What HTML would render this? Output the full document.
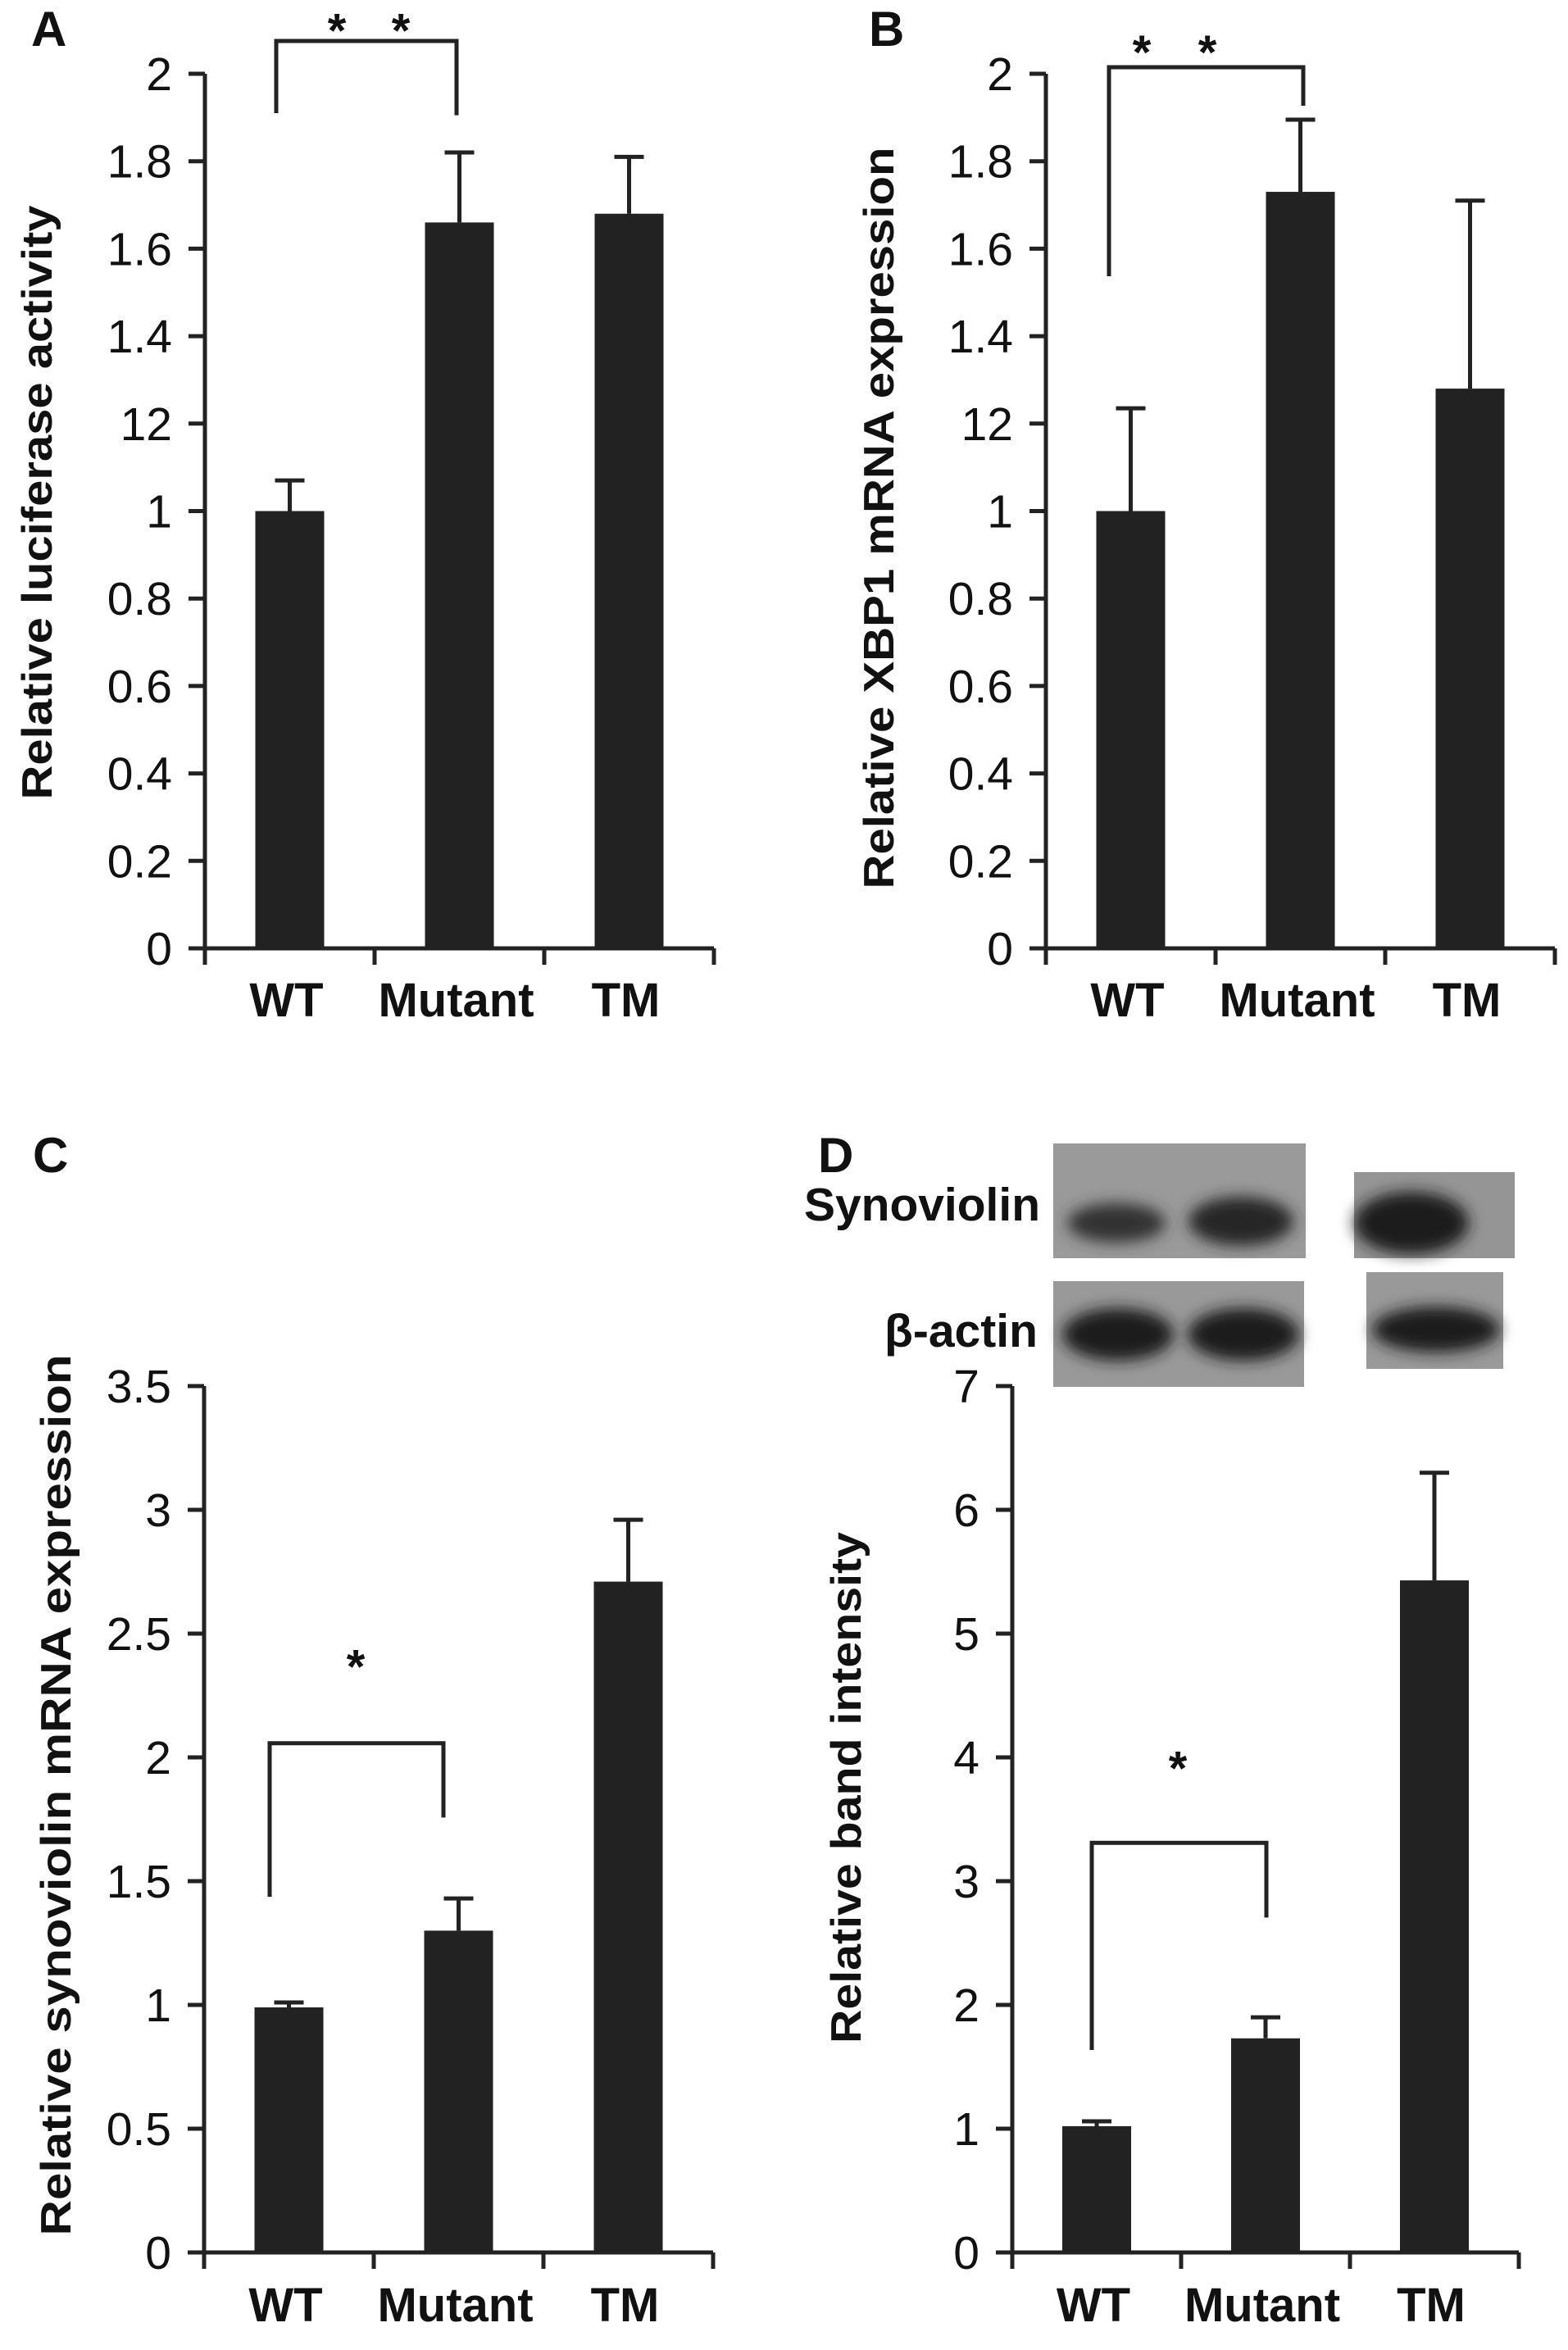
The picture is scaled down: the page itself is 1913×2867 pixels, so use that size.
<!DOCTYPE html>
<html><head><meta charset="utf-8"><style>
html,body{margin:0;padding:0;background:#fff;}
svg{display:block;}
text{font-family:"Liberation Sans",Arial,sans-serif;fill:#111;}
</style></head><body>
<svg id="fig" width="1913" height="2867" viewBox="0 0 1913 2867" xmlns="http://www.w3.org/2000/svg">
<defs><filter id="blur" x="-20%" y="-50%" width="140%" height="200%"><feGaussianBlur stdDeviation="9"/></filter></defs>
<g id="blots">
  <rect x="1285" y="1395" width="308" height="140" fill="#9a9a9a"/>
  <rect x="1652" y="1430" width="196" height="105" fill="#959595"/>
  <rect x="1285" y="1563" width="306" height="129" fill="#999"/>
  <rect x="1667" y="1552" width="167" height="118" fill="#999"/>
  <g filter="url(#blur)">
    <ellipse cx="1362" cy="1492" rx="60" ry="24" fill="#333"/>
    <ellipse cx="1514" cy="1490" rx="64" ry="30" fill="#262626"/>
    <ellipse cx="1722" cy="1492" rx="70" ry="38" fill="#1a1a1a"/>
    <ellipse cx="1364" cy="1628" rx="68" ry="32" fill="#1c1c1c"/>
    <ellipse cx="1517" cy="1628" rx="68" ry="32" fill="#1c1c1c"/>
    <ellipse cx="1752" cy="1622" rx="78" ry="28" fill="#1c1c1c"/>
  </g>
  <text x="981" y="1489" font-size="57" font-weight="bold" textLength="288" lengthAdjust="spacingAndGlyphs">Synoviolin</text>
  <text x="1079" y="1643" font-size="57" font-weight="bold" textLength="187" lengthAdjust="spacingAndGlyphs">β-actin</text>
</g>
</svg>
<script>
const categories = ["WT", "Mutant", "TM"];
const aValues = [1.0, 1.66, 1.68];
const aErrors = [0.07, 0.16, 0.13];
const aTicks = ["0","0.2","0.4","0.6","0.8","1","12","1.4","1.6","1.8","2"];
const bValues = [1.0, 1.73, 1.28];
const bErrors = [0.235, 0.165, 0.43];
const bTicks = ["0","0.2","0.4","0.6","0.8","1","12","1.4","1.6","1.8","2"];
const cValues = [0.99, 1.30, 2.71];
const cErrors = [0.02, 0.13, 0.25];
const cTicks = ["0","0.5","1","1.5","2","2.5","3","3.5"];
const dValues = [1.02, 1.73, 5.43];
const dErrors = [0.04, 0.17, 0.87];
const dTicks = ["0","1","2","3","4","5","6","7"];

const NS = "http://www.w3.org/2000/svg";
const svg = document.getElementById("fig");
function mk(tag, attrs, parent) {
  const e = document.createElementNS(NS, tag);
  for (const k in attrs) e.setAttribute(k, attrs[k]);
  (parent || svg).appendChild(e);
  return e;
}

function panel(p) {
  const g = mk("g", {});
  
  
  const yMax = p.tickStep * (p.ticks.length - 1);
  const y = v => p.y0 - (v / yMax) * (p.y0 - p.yTop);
  const xc = i => p.ax + p.slot * (i + 0.5);
  const xEnd = p.ax + p.slot * categories.length;
  p.values.forEach((v, i) => {
    const r = mk("rect", {x: xc(i) - 42, y: y(v), width: 84, height: p.y0 - y(v), fill: "#222"}, g);
    
    
    const top = y(v + p.errors[i]);
    const e = mk("path", {d: `M${xc(i)} ${y(v)} V${top} M${xc(i)-18} ${top} H${xc(i)+18}`, stroke: "#222", "stroke-width": 5, fill: "none"}, g);
    
    
    const t = mk("text", {x: xc(i) - 4, y: p.labelY, "font-size": 58, "font-weight": "bold", "text-anchor": "middle"}, g);
    t.textContent = categories[i];
    
    
  });
  const yAxis = mk("path", {d: `M${p.ax} ${p.yTop} V${p.y0 + 20}`, stroke: "#222", "stroke-width": 5, fill: "none"}, g);
  
  
  const xAxis = mk("path", {d: `M${p.ax - 20} ${p.y0} H${xEnd}`, stroke: "#222", "stroke-width": 5, fill: "none"}, g);
  
  
  for (let i = 1; i <= categories.length; i++) {
    const tk = mk("path", {d: `M${p.ax + p.slot * i} ${p.y0} V${p.y0 + 20}`, stroke: "#222", "stroke-width": 5}, g);
    
    
  }
  p.ticks.forEach((lab, i) => {
    const yy = y(i * p.tickStep);
    const tk = mk("path", {d: `M${p.ax - 20} ${yy} H${p.ax}`, stroke: "#222", "stroke-width": 5}, g);
    
    
    const t = mk("text", {x: p.ax - 40, y: yy + 20, "font-size": 57, "text-anchor": "end", fill: "#222"}, g);
    t.textContent = lab;
    
    
  });
  const tt = mk("text", {x: 0, y: 0, "font-size": 52, "font-weight": "bold", "text-anchor": "middle",
    transform: `translate(${p.titleX + 17},${p.titleY}) rotate(-90)`, textLength: p.titleLen, lengthAdjust: "spacingAndGlyphs"}, g);
  tt.textContent = p.title;
  
  
  const br = p.bracket;
  const bp = mk("path", {d: `M${br.x1} ${y(br.l)} V${y(br.top)} H${br.x2} V${y(br.r)}`, stroke: "#222", "stroke-width": 5, fill: "none"}, g);
  
  
  br.stars.forEach(sx => {
    const s = mk("text", {x: sx, y: y(br.starV) + 26, "font-size": 58, "font-weight": "bold", "text-anchor": "middle"}, g);
    s.textContent = "*";
    
    
  });
  const L = mk("text", {x: p.letter[0], y: p.letter[1], "font-size": 60, "font-weight": "bold"}, g);
  L.textContent = p.letterText;
  
  
}

panel({id: "panel-a", ax: 250, slot: 207, y0: 1157, yTop: 90, tickStep: 0.2, ticks: aTicks, values: aValues, errors: aErrors,
  labelY: 1240, title: "Relative luciferase activity", titleX: 46, titleY: 613, titleLen: 725,
  bracket: {x1: 337, x2: 557, top: 2.075, l: 1.91, r: 1.905, starV: 2.11, stars: [411, 489]},
  letter: [38, 56], letterText: "A"});
panel({id: "panel-b", ax: 1276, slot: 207, y0: 1157, yTop: 90, tickStep: 0.2, ticks: bTicks, values: bValues, errors: bErrors,
  labelY: 1240, title: "Relative XBP1 mRNA expression", titleX: 1073, titleY: 632, titleLen: 905,
  bracket: {x1: 1353, x2: 1590, top: 2.015, l: 1.537, r: 1.927, starV: 2.06, stars: [1393, 1473]},
  letter: [1060, 56], letterText: "B"});
panel({id: "panel-c", ax: 249, slot: 207, y0: 2748, yTop: 1691, tickStep: 0.5, ticks: cTicks, values: cValues, errors: cErrors,
  labelY: 2832, title: "Relative synoviolin mRNA expression", titleX: 69, titleY: 2190, titleLen: 1075,
  bracket: {x1: 329, x2: 541, top: 2.057, l: 1.437, r: 1.757, starV: 2.385, stars: [434]},
  letter: [40, 1430], letterText: "C"});
panel({id: "panel-d", ax: 1235, slot: 206, y0: 2748, yTop: 1691, tickStep: 1, ticks: dTicks, values: dValues, errors: dErrors,
  labelY: 2832, title: "Relative band intensity", titleX: 1033, titleY: 2181, titleLen: 624,
  bracket: {x1: 1332, x2: 1545, top: 3.31, l: 1.636, r: 2.706, starV: 3.95, stars: [1437]},
  letter: [998, 1430], letterText: "D"});
</script>
</body></html>
